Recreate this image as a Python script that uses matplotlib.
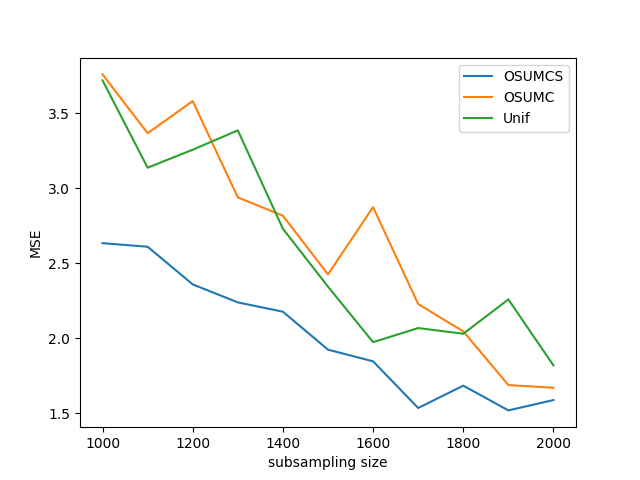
import matplotlib
matplotlib.use("Agg")
import matplotlib.pyplot as plt

# subsampling sizes
sizes = [1000, 1100, 1200, 1300, 1400, 1500, 1600, 1700, 1800, 1900, 2000]

# MSE
mse_osumcs = [2.635, 2.611, 2.36, 2.24, 2.178, 1.925, 1.847, 1.536, 1.685, 1.52, 1.589]
mse_osumc = [3.76, 3.368, 3.582, 2.94, 2.818, 2.427, 2.875, 2.229, 2.047, 1.689, 1.671]
mse_unif = [3.72, 3.138, 3.258, 3.387, 2.731, 2.345, 1.975, 2.069, 2.031, 2.26, 1.82]

plt.figure(figsize=(6.4, 4.8), dpi=100)
plt.plot(sizes, mse_osumcs, label="OSUMCS")
plt.plot(sizes, mse_osumc, label="OSUMC")
plt.plot(sizes, mse_unif, label="Unif")
plt.xlabel("subsampling size")
plt.ylabel("MSE")
plt.legend()
plt.savefig("out.png")
